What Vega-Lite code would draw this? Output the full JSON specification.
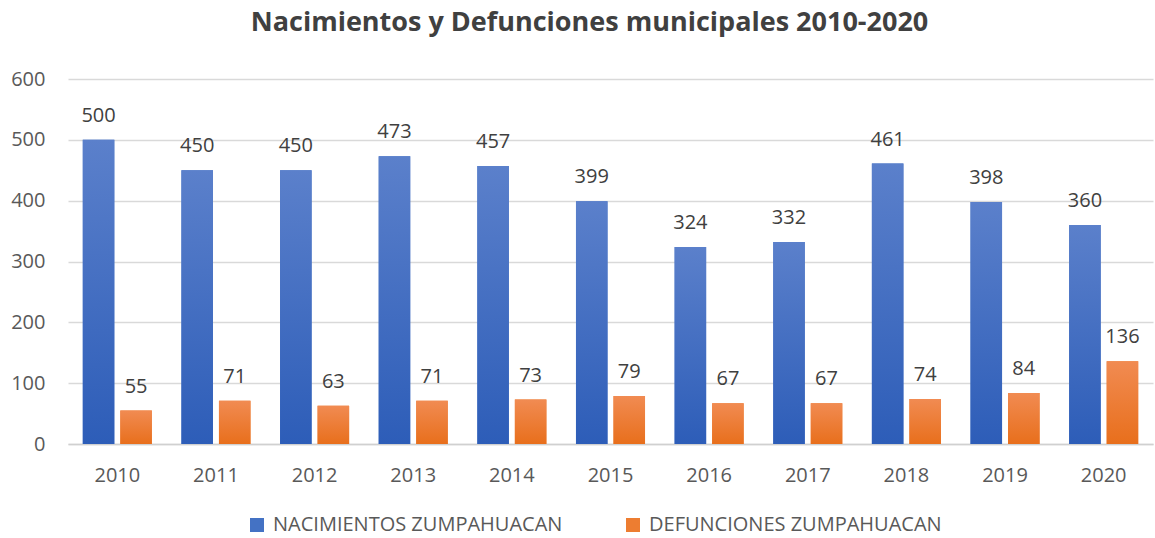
{
  "$schema": "https://vega.github.io/schema/vega-lite/v6.json",
  "autosize": {"type": "none"},
  "padding": {"left": 68, "top": 79, "right": 2, "bottom": 94},
  "width": 1085,
  "height": 365,
  "background": "white",
  "config": {"font": "Open Sans", "view": {"stroke": null}},
  "title": {"text": "Nacimientos y Defunciones municipales 2010-2020", "font": "Open Sans", "fontSize": 27, "fontWeight": "bold", "color": "#404040", "dx": -21, "offset": 32, "anchor": "middle", "frame": "group"},
  "data": {"values": [
    {"year": "2010", "series": "NACIMIENTOS ZUMPAHUACAN", "value": 500},
    {"year": "2011", "series": "NACIMIENTOS ZUMPAHUACAN", "value": 450},
    {"year": "2012", "series": "NACIMIENTOS ZUMPAHUACAN", "value": 450},
    {"year": "2013", "series": "NACIMIENTOS ZUMPAHUACAN", "value": 473},
    {"year": "2014", "series": "NACIMIENTOS ZUMPAHUACAN", "value": 457},
    {"year": "2015", "series": "NACIMIENTOS ZUMPAHUACAN", "value": 399},
    {"year": "2016", "series": "NACIMIENTOS ZUMPAHUACAN", "value": 324},
    {"year": "2017", "series": "NACIMIENTOS ZUMPAHUACAN", "value": 332},
    {"year": "2018", "series": "NACIMIENTOS ZUMPAHUACAN", "value": 461},
    {"year": "2019", "series": "NACIMIENTOS ZUMPAHUACAN", "value": 398},
    {"year": "2020", "series": "NACIMIENTOS ZUMPAHUACAN", "value": 360},
    {"year": "2010", "series": "DEFUNCIONES ZUMPAHUACAN", "value": 55},
    {"year": "2011", "series": "DEFUNCIONES ZUMPAHUACAN", "value": 71},
    {"year": "2012", "series": "DEFUNCIONES ZUMPAHUACAN", "value": 63},
    {"year": "2013", "series": "DEFUNCIONES ZUMPAHUACAN", "value": 71},
    {"year": "2014", "series": "DEFUNCIONES ZUMPAHUACAN", "value": 73},
    {"year": "2015", "series": "DEFUNCIONES ZUMPAHUACAN", "value": 79},
    {"year": "2016", "series": "DEFUNCIONES ZUMPAHUACAN", "value": 67},
    {"year": "2017", "series": "DEFUNCIONES ZUMPAHUACAN", "value": 67},
    {"year": "2018", "series": "DEFUNCIONES ZUMPAHUACAN", "value": 74},
    {"year": "2019", "series": "DEFUNCIONES ZUMPAHUACAN", "value": 84},
    {"year": "2020", "series": "DEFUNCIONES ZUMPAHUACAN", "value": 136}
  ]},
  "encoding": {
    "x": {"field": "year", "type": "nominal", "title": null,
      "scale": {"paddingInner": 0.3, "paddingOuter": 0.15},
      "axis": {"labelAngle": 0, "labelFontSize": 20, "labelColor": "#595959", "labelFont": "Open Sans", "labelPadding": 21, "ticks": false, "domainColor": "#d0d0d0", "domainWidth": 1.5, "grid": false}},
    "xOffset": {"field": "series", "type": "nominal", "sort": ["NACIMIENTOS ZUMPAHUACAN", "DEFUNCIONES ZUMPAHUACAN"], "scale": {"paddingInner": 0.16, "paddingOuter": 0}},
    "y": {"field": "value", "type": "quantitative", "title": null,
      "scale": {"domain": [0, 600]},
      "axis": {"values": [0, 100, 200, 300, 400, 500, 600], "labelFontSize": 20, "labelColor": "#595959", "labelFont": "Open Sans", "labelPadding": 23, "ticks": false, "domain": false, "gridColor": "#d9d9d9", "gridWidth": 1.5}}
  },
  "layer": [
    {
      "mark": {"type": "bar"},
      "encoding": {
        "color": {"field": "series", "type": "nominal", "sort": ["NACIMIENTOS ZUMPAHUACAN", "DEFUNCIONES ZUMPAHUACAN"],
          "scale": {"domain": ["NACIMIENTOS ZUMPAHUACAN", "DEFUNCIONES ZUMPAHUACAN"], "range": ["#4472C4", "#ED7D31"]},
          "legend": {"title": null, "orient": "none", "legendX": 179, "legendY": 436, "direction": "horizontal", "symbolType": "square", "symbolSize": 196, "labelFontSize": 20, "labelColor": "#595959", "labelFont": "Open Sans", "labelLimit": 0, "labelOffset": 6, "columnPadding": 60, "padding": 0, "symbolStrokeWidth": 0}}
      }
    },
    {
      "mark": {"type": "bar"},
      "encoding": {
        "color": {
          "condition": {"test": "datum.series === 'NACIMIENTOS ZUMPAHUACAN'",
            "value": {"gradient": "linear", "x1": 0, "y1": 0, "x2": 0, "y2": 1, "stops": [{"offset": 0, "color": "#5B80CB"}, {"offset": 1, "color": "#2D5DB8"}]}},
          "value": {"gradient": "linear", "x1": 0, "y1": 0, "x2": 0, "y2": 1, "stops": [{"offset": 0, "color": "#F18B52"}, {"offset": 1, "color": "#E86F1C"}]}
        }
      }
    },
    {
      "mark": {"type": "text", "baseline": "alphabetic", "dy": -18, "fontSize": 20, "font": "Open Sans", "color": "#404040"},
      "encoding": {"text": {"field": "value", "type": "quantitative"}}
    }
  ]
}
